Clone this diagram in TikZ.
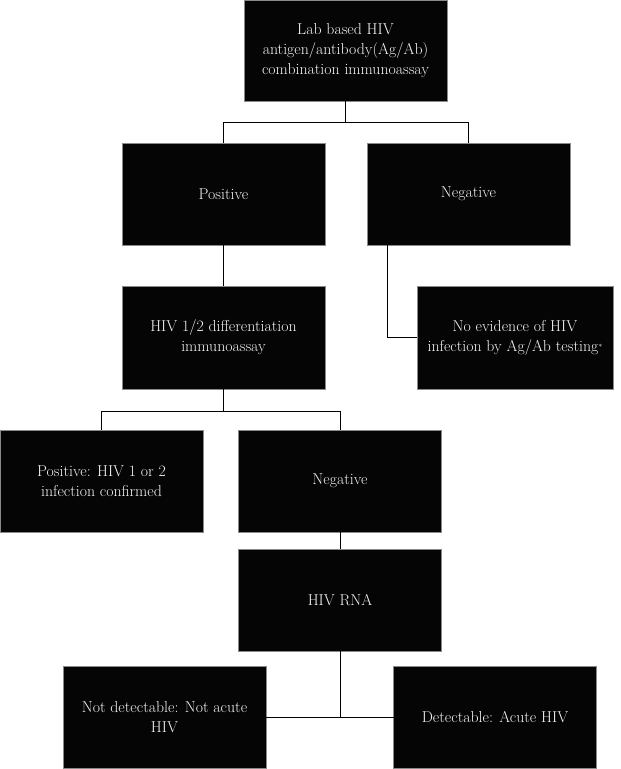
\documentclass[tikz,border=0pt]{standalone}
\usepackage{fontspec}
\definecolor{boxfill}{HTML}{050505}
\definecolor{boxedge}{HTML}{8A8A8A}
\definecolor{boxtext}{HTML}{F4F4F4}
\begin{document}
\begin{tikzpicture}[x=1pt,y=-1pt,
  box/.style={rectangle, fill=boxfill, draw=boxedge, line width=0.5pt,
    minimum width=203pt, minimum height=102pt, inner sep=0pt, outer sep=0pt,
    text=boxtext, align=center, font=\fontsize{15.8}{20}\selectfont},
  link/.style={draw=black, line width=0.9pt}]
\useasboundingbox (0,0) rectangle (621,769);
\node[box, minimum height=101pt] (top) at (345.5,50.5) {Lab based HIV\\antigen/antibody(Ag/Ab)\\combination immunoassay};
\node[box] (pos) at (223.5,194) {Positive};
\node[box] (neg) at (468.5,194) {Negative};
\node[box, minimum height=103pt] (diff) at (223.5,337.5) {HIV 1/2 differentiation\\immunoassay};
\node[box, minimum width=196pt, minimum height=103pt] (noev) at (515,337.5) {No evidence of HIV\\infection by Ag/Ab testing\raisebox{0.25ex}{\scriptsize *}};
\node[box] (conf) at (101.5,481) {Positive: HIV 1 or 2\\infection confirmed};
\node[box] (neg2) at (340,481) {Negative};
\node[box] (rna) at (340,600) {HIV RNA};
\node[box] (notdet) at (164.5,717) {Not detectable: Not acute\\HIV};
\node[box] (det) at (495,717) {Detectable: Acute HIV};
\coordinate (j1) at (345.5,122);
\coordinate (j2) at (223.5,411);
\coordinate (n1) at (387,245);
\path[link] (top.south) -- (j1) -| (pos.north);
\path[link] (j1) -| (neg.north);
\path[link] (pos.south) -- (diff.north);
\path[link] (n1) |- (noev.west);
\path[link] (diff.south) -- (j2) -| (conf.north);
\path[link] (j2) -| (neg2.north);
\path[link] (neg2.south) -- (rna.north);
\path[link] (rna.south) |- (det.west);
\path[link] (notdet.east) -- (det.west);
\end{tikzpicture}
\end{document}
